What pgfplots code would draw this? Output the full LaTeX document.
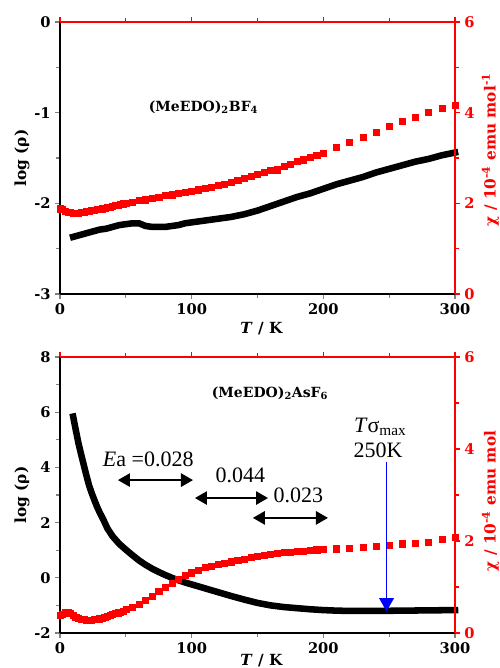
\documentclass[border=0pt]{standalone}
\usepackage{fontspec}
\setmainfont{DejaVu Serif}
\newfontfamily\tnr{Liberation Serif}
\usepackage{pgfplots}
\pgfplotsset{compat=1.18}
\usetikzlibrary{arrows.meta}

\pgfplotsset{
 base/.style={scale only axis, width=296.25pt, xmin=0, xmax=300,
   xtick={0,100,200,300}, minor xtick={50,150,250},
   tick align=outside, major tick length=3.5pt, minor tick length=3pt,
   axis line style={line width=1pt}, every tick/.append style={line width=0.9pt},
   /pgf/number format/assume math mode=true,
   ticklabel style={font=\fontsize{11}{13}\selectfont\bfseries},
   label style={font=\fontsize{11.5}{13}\selectfont\bfseries},
   clip=false},
 leftax/.style={base, axis x line*=bottom, axis y line*=left,
   xlabel={\textit{T} / K}, ylabel={log (ρ)},
   ylabel style={at={(axis description cs:-0.096,0.5)}, anchor=center}},
 rightax/.style={base, axis x line*=top, axis y line*=right, xticklabels={},
   ymin=0, ymax=6, ytick={0,2,4,6}, minor ytick={1,3,5},
   axis line style={red}, every tick/.append style={red},
   yticklabel style={red}, ylabel style={red, anchor=center}},
 blk/.style={black, line width=4.9pt, line cap=rect, line join=round},
 rsq/.style={red, only marks, mark=square*, mark size=2.3pt, mark options={draw=red, fill=red}},
}

\begin{document}
\begin{tikzpicture}
\useasboundingbox (0,0) rectangle (375pt,501pt);

% ---------------- top panel ----------------
\begin{axis}[leftax, at={(45pt,280.5pt)}, anchor=south west, height=204pt,
  ymin=-3, ymax=0, ytick={-3,-2,-1,0}, minor ytick={-2.5,-1.5,-0.5},
  xlabel style={at={(axis description cs:0.51,-0.128)}, anchor=center}]
\addplot[blk] coordinates {
(10,-2.37)(15,-2.35)(20,-2.33)(25,-2.31)(30,-2.29)(35,-2.28)(40,-2.26)(45,-2.24)
(50,-2.23)(55,-2.22)(60,-2.22)(65,-2.25)(70,-2.26)(75,-2.26)(80,-2.26)(85,-2.25)
(90,-2.24)(95,-2.22)(100,-2.21)(110,-2.19)(120,-2.17)(130,-2.15)(140,-2.12)
(150,-2.08)(160,-2.03)(170,-1.98)(180,-1.93)(190,-1.89)(200,-1.84)(210,-1.79)
(220,-1.75)(230,-1.71)(240,-1.66)(250,-1.62)(260,-1.58)(270,-1.54)(280,-1.51)
(290,-1.47)(300,-1.44)};
\node[font=\fontsize{10.5}{12}\selectfont\bfseries] at (axis cs:109,-0.94) {(MeEDO)\textsubscript{2}BF\textsubscript{4}};
\end{axis}

\begin{axis}[rightax, at={(45pt,280.5pt)}, anchor=south west, height=204pt,
  ylabel={χ / 10\textsuperscript{-4} emu mol\textsuperscript{-1}},
  ylabel style={at={(axis description cs:1.09,0.53)}}]
\addplot[rsq] coordinates {
(0,1.88)(2,1.86)(4,1.83)(6,1.81)(8,1.80)(10,1.79)(12,1.79)(14,1.79)(16,1.80)
(18,1.81)(20,1.82)(22,1.83)(24,1.84)(26,1.85)(28,1.86)(30,1.87)(32,1.88)(34,1.90)
(36,1.91)(38,1.92)(40,1.93)(42,1.95)(44,1.96)(46,1.97)(48,1.99)(50,2.00)
(55,2.03)(60,2.06)(65,2.08)(70,2.11)(75,2.14)(80,2.17)(85,2.19)(90,2.22)(95,2.25)
(100,2.27)(105,2.30)(110,2.33)(115,2.36)(120,2.39)(125,2.43)(130,2.47)(135,2.51)
(140,2.55)(145,2.59)(150,2.64)(155,2.68)(160,2.73)(165,2.74)(170,2.81)(175,2.87)
(180,2.92)(185,2.96)(190,3.01)(195,3.06)(200,3.11)
(210,3.23)(220,3.34)(230,3.45)(240,3.57)(250,3.70)(260,3.81)(270,3.90)(280,4.00)
(290,4.10)(300,4.16)};
\end{axis}

% ---------------- bottom panel ----------------
\begin{axis}[leftax, at={(45pt,26.25pt)}, anchor=south west, height=207pt,
  ymin=-2, ymax=8, ytick={-2,0,2,4,6,8}, minor ytick={-1,1,3,5,7},
  xlabel style={at={(axis description cs:0.51,-0.101)}, anchor=center}]
\addplot[blk] coordinates {
(10,5.84)(12,5.35)(14,4.88)(16,4.48)(18,4.10)(20,3.72)(22,3.36)(24,3.08)(26,2.83)
(28,2.59)(30,2.38)(33,2.10)(36,1.79)(40,1.50)(45,1.23)(50,1.02)(55,0.82)(60,0.63)
(65,0.47)(70,0.33)(75,0.21)(80,0.10)(85,0.00)(90,-0.09)(95,-0.17)(100,-0.24)
(110,-0.38)(120,-0.52)(130,-0.66)(140,-0.79)(150,-0.91)(160,-1.00)(170,-1.06)
(180,-1.10)(190,-1.14)(200,-1.17)(210,-1.19)(220,-1.20)(240,-1.20)(260,-1.19)
(280,-1.18)(300,-1.17)};
\node[font=\fontsize{10.5}{12}\selectfont\bfseries] at (axis cs:159.5,6.7) {(MeEDO)\textsubscript{2}AsF\textsubscript{6}};
\node[font=\tnr\fontsize{16.5}{18}\selectfont] at (axis cs:67,4.30) {\textit{E}a =0.028};
\node[font=\tnr\fontsize{16.5}{18}\selectfont] at (axis cs:137,3.72) {0.044};
\node[font=\tnr\fontsize{16.5}{18}\selectfont] at (axis cs:181,3.0) {0.023};
\node[font=\tnr\fontsize{16.5}{18}\selectfont] at (axis cs:243,5.47) {\textit{T}σ\raisebox{-0.35ex}{\fontsize{11.5}{12}\selectfont max}};
\node[font=\tnr\fontsize{16.5}{18}\selectfont] at (axis cs:241.5,4.63) {250K};
\draw[line width=1.3pt, {Triangle[length=9pt,width=10pt]}-{Triangle[length=9pt,width=10pt]}] (axis cs:44,3.54) -- (axis cs:101,3.54);
\draw[line width=1.3pt, {Triangle[length=9pt,width=10pt]}-{Triangle[length=9pt,width=10pt]}] (axis cs:102.5,2.89) -- (axis cs:158,2.89);
\draw[line width=1.3pt, {Triangle[length=9pt,width=10pt]}-{Triangle[length=9pt,width=10pt]}] (axis cs:146.5,2.17) -- (axis cs:203.5,2.17);
\end{axis}

\begin{axis}[rightax, at={(45pt,26.25pt)}, anchor=south west, height=207pt,
  ylabel={χ / 10\textsuperscript{-4} emu mol},
  ylabel style={at={(axis description cs:1.09,0.478)}}]
\addplot[rsq] coordinates {
(0,0.38)(2,0.40)(4,0.44)(6,0.46)(8,0.43)(10,0.38)(12,0.35)(14,0.32)(16,0.30)
(18,0.29)(20,0.28)(22,0.28)(24,0.28)(26,0.29)(28,0.30)(30,0.31)(32,0.32)(34,0.34)
(36,0.36)(38,0.38)(40,0.40)(42,0.42)(44,0.44)(46,0.46)(48,0.48)(50,0.51)
(55,0.56)(60,0.63)(65,0.71)(70,0.80)(75,0.90)(80,0.99)(85,1.08)(90,1.17)(95,1.25)
(100,1.31)(105,1.37)(110,1.42)(115,1.46)(120,1.49)(125,1.52)(130,1.55)(135,1.58)
(140,1.61)(145,1.64)(150,1.67)(155,1.69)(160,1.71)(165,1.73)(170,1.75)(175,1.76)
(180,1.77)(185,1.78)(190,1.80)(195,1.81)(200,1.82)
(210,1.83)(220,1.84)(230,1.86)(240,1.88)(250,1.91)(260,1.94)(270,1.96)(280,1.98)
(290,2.03)(300,2.08)};
\end{axis}
\begin{axis}[at={(45pt,26.25pt)}, anchor=south west, height=207pt, scale only axis,
  width=296.25pt, xmin=0, xmax=300, ymin=-2, ymax=8, hide axis, clip=false]
\draw[blue, line width=1pt, -{Triangle[length=10pt,width=11pt]}] (axis cs:248,4.2) -- (axis cs:248,-1.22);
\end{axis}
\end{tikzpicture}
\end{document}
